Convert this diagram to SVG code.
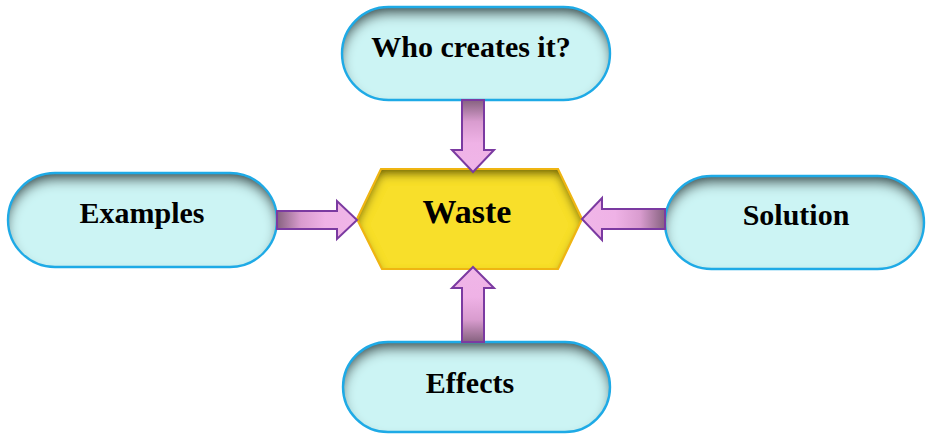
<svg xmlns="http://www.w3.org/2000/svg" width="926" height="434" viewBox="0 0 926 434">
  <defs>
    <style>
      .pill { fill: #ccf4f4; filter: url(#innerShade); }
      .pill-edge { fill: none; stroke: #1eaae6; stroke-width: 2.4; }
      .hex { fill: #f8df2c; filter: url(#innerShadeGold); }
      .hex-edge { fill: none; stroke: #efb512; stroke-width: 2.2; stroke-linejoin: miter; }
      .label { font-family: "Liberation Serif", "Times New Roman", serif; font-weight: bold; font-size: 30px; fill: #000; text-anchor: middle; }
      .title { font-size: 34px; }
      .arrow { fill: url(#arrowFill); stroke: #7b3aa1; stroke-width: 2; stroke-linejoin: miter; }
    </style>
    <!-- soft dark shading along the upper inside edge of the pills -->
    <filter id="innerShade" x="-10%" y="-20%" width="120%" height="140%">
      <feFlood flood-color="#1a2e2e" flood-opacity="0.95" result="c"/>
      <feComposite in="c" in2="SourceAlpha" operator="out" result="outside"/>
      <feOffset in="outside" dy="8" result="shifted"/>
      <feGaussianBlur in="shifted" stdDeviation="6" result="blur"/>
      <feComposite in="blur" in2="SourceAlpha" operator="in" result="shade"/>
      <feMerge><feMergeNode in="SourceGraphic"/><feMergeNode in="shade"/></feMerge>
    </filter>
    <filter id="innerShadeGold" x="-10%" y="-20%" width="120%" height="140%">
      <feFlood flood-color="#4a4200" flood-opacity="0.9" result="c"/>
      <feComposite in="c" in2="SourceAlpha" operator="out" result="outside"/>
      <feOffset in="outside" dy="6" result="shifted"/>
      <feGaussianBlur in="shifted" stdDeviation="5" result="blur"/>
      <feComposite in="blur" in2="SourceAlpha" operator="in" result="shade"/>
      <feMerge><feMergeNode in="SourceGraphic"/><feMergeNode in="shade"/></feMerge>
    </filter>
    <!-- block arrows darken toward their tail -->
    <linearGradient id="arrowFill" x1="0" y1="0" x2="1" y2="0">
      <stop offset="0" stop-color="#86627f"/>
      <stop offset="0.3" stop-color="#d99ccf"/>
      <stop offset="0.6" stop-color="#efb2e6"/>
      <stop offset="1" stop-color="#f0b6e8"/>
    </linearGradient>
  </defs>

  <rect width="926" height="434" fill="#ffffff"/>

  <g id="node-who">
    <rect class="pill" x="342" y="7" width="268" height="93" rx="46.5"/>
    <rect class="pill-edge" x="342" y="7" width="268" height="93" rx="46.5"/>
    <text class="label" x="471" y="57">Who creates it?</text>
  </g>

  <g id="node-examples">
    <rect class="pill" x="8" y="173" width="269" height="94" rx="47"/>
    <rect class="pill-edge" x="8" y="173" width="269" height="94" rx="47"/>
    <text class="label" x="142" y="223">Examples</text>
  </g>

  <g id="node-solution">
    <rect class="pill" x="665" y="176" width="259" height="93" rx="46.5"/>
    <rect class="pill-edge" x="665" y="176" width="259" height="93" rx="46.5"/>
    <text class="label" x="796" y="225">Solution</text>
  </g>

  <g id="node-effects">
    <rect class="pill" x="343" y="342" width="267" height="90" rx="45"/>
    <rect class="pill-edge" x="343" y="342" width="267" height="90" rx="45"/>
    <text class="label" x="470" y="393">Effects</text>
  </g>

  <g id="node-waste">
    <polygon class="hex" points="381,169 558,169 582,219 558,269 382,269 357,219"/>
    <polygon class="hex-edge" points="381,169 558,169 582,219 558,269 382,269 357,219"/>
    <text class="label title" x="467" y="223">Waste</text>
  </g>

  <g id="connectors">
    <!-- Examples to Waste -->
    <path class="arrow" transform="translate(277,220)" d="M0,-9 H60 V-19 L80,0 L60,19 V9 H0 Z"/>
    <!-- Solution to Waste -->
    <path class="arrow" transform="translate(665,219) rotate(180)" d="M0,-10 H63 V-21 L83,0 L63,21 V10 H0 Z"/>
    <!-- Who creates it? to Waste -->
    <path class="arrow" transform="translate(473,100) rotate(90)" d="M0,-11 H50 V-21 L72,0 L50,21 V11 H0 Z"/>
    <!-- Effects to Waste -->
    <path class="arrow" transform="translate(473,342) rotate(-90)" d="M0,-11 H54 V-21 L75,0 L54,21 V11 H0 Z"/>
  </g>
</svg>
